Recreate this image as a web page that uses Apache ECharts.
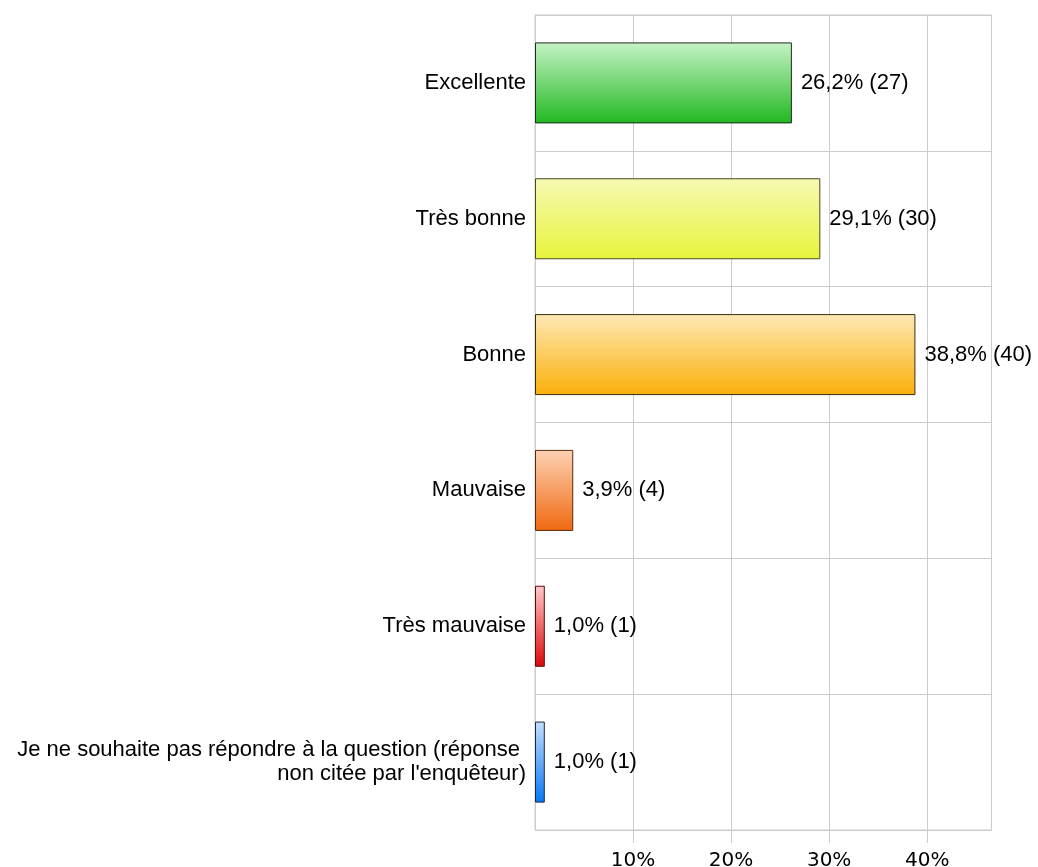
<!DOCTYPE html>
<html>
<head>
<meta charset="utf-8">
<script src="https://cdn.jsdelivr.net/npm/echarts@6/dist/echarts.min.js"></script>
<style>
html,body{margin:0;padding:0;background:#fff;}
#chart{width:1038px;height:867px;}
</style>
</head>
<body>
<div id="chart"></div>
<script>
const categories = [
  "Excellente",
  "Très bonne",
  "Bonne",
  "Mauvaise",
  "Très mauvaise",
  "Je ne souhaite pas répondre à la question (réponse \nnon citée par l'enquêteur)"
];
const percentages = [26.2, 29.1, 38.8, 3.9, 1.0, 1.0];
const counts = [27, 30, 40, 4, 1, 1];
const tickValues = [10, 20, 30, 40];
const topColors = ["#c6f3c6", "#f5f9b4", "#fde8b4", "#fdd2b4", "#ffc8cc", "#c4defd"];
const bottomColors = ["#22b822", "#e8f43a", "#fbb00a", "#f06810", "#dc0808", "#0878f6"];
const borderColors = ["#1c2e1c", "#4a4a22", "#3a2e10", "#5a2a10", "#5a0a0a", "#1a2a44"];

const chart = echarts.init(document.getElementById('chart'));
const data = percentages.map((v, i) => ({
  value: v,
  itemStyle: {
    color: new echarts.graphic.LinearGradient(0, 0, 0, 1, [
      {offset: 0, color: topColors[i]},
      {offset: 1, color: bottomColors[i]}
    ]),
    borderColor: borderColors[i],
    borderWidth: 1
  }
}));
chart.setOption({
  animation: false,
  grid: {left: 535, right: 46.5, top: 15, bottom: 37, containLabel: false,
         outerBoundsMode: 'none',
         show: true, borderColor: '#cccccc', borderWidth: 1},
  xAxis: {
    type: 'value', min: 0, max: 46.56, interval: 10,
    axisLine: {show: false},
    axisTick: {show: true, length: 13, lineStyle: {color: '#cccccc'}, customValues: tickValues},
    axisLabel: {
      customValues: tickValues,
      formatter: '{value}%',
      fontFamily: 'DejaVu Sans', fontSize: 20, color: '#000', margin: 21
    },
    splitLine: {show: true, lineStyle: {color: '#cccccc', width: 1}}
  },
  yAxis: {
    type: 'category', data: categories, inverse: true,
    axisLine: {show: true, lineStyle: {color: '#cccccc'}},
    axisTick: {show: false},
    axisLabel: {fontFamily: 'Liberation Sans', fontSize: 22, color: '#000', margin: 9,
                lineHeight: 24, align: 'right'},
    splitLine: {show: true, lineStyle: {color: '#cccccc', width: 1}}
  },
  series: [{
    type: 'bar', data: data, barWidth: 81,
    label: {
      show: true, position: 'right', distance: 9,
      fontFamily: 'Liberation Sans', fontSize: 22, color: '#000',
      formatter: p => p.value.toFixed(1).replace('.', ',') + '% (' + counts[p.dataIndex] + ')'
    }
  }]
});
</script>
</body>
</html>
